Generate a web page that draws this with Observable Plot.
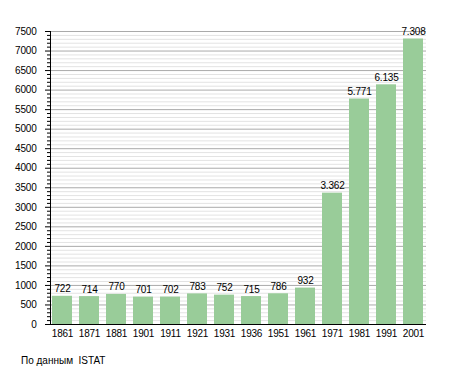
<!DOCTYPE html>
<html><head><meta charset="utf-8">
<script src="https://cdn.jsdelivr.net/npm/d3@7"></script>
<script src="https://cdn.jsdelivr.net/npm/@observablehq/plot@0.6"></script>
<style>
body{margin:0;background:#fff;font-family:"Liberation Sans",Arial,sans-serif;}
#wrap{position:relative;width:455px;height:373px;}
#cap{position:absolute;left:21px;top:355px;font-size:10px;white-space:pre;color:#000;}
svg text{letter-spacing:-0.2px;}
</style></head>
<body><div id="wrap"><div id="chart"></div><div id="cap">По данным  ISTAT</div></div>
<script>
const years = ["1861","1871","1881","1901","1911","1921","1931","1936","1951","1961","1971","1981","1991","2001"];
const population = [722,714,770,701,702,783,752,715,786,932,3362,5771,6135,7308];
const majorTicks = d3.range(0, 7501, 500);
const minorTicks = d3.range(0, 7501, 100).filter(v => v % 500 !== 0);

const data = years.map((y, i) => ({year: y, value: population[i]}));
const fmt = v => v >= 1000 ? d3.format(",")(v).replace(/,/g, ".") : String(v);

const chart = Plot.plot({
  width: 455,
  height: 345,
  marginLeft: 50,
  marginRight: 29,
  marginTop: 31,
  marginBottom: 21,
  style: {fontFamily: "Liberation Sans, Arial, sans-serif", fontSize: "10px", color: "#000", background: "#fff"},
  x: {domain: years, paddingInner: 0.25, paddingOuter: 0, label: null},
  y: {domain: [0, 7500], label: null},
  marks: [
    Plot.ruleY(minorTicks, {stroke: "#e3e3e3", strokeWidth: 1}),
    Plot.ruleY(majorTicks, {stroke: "#aaaaaa", strokeWidth: 1}),
    Plot.barY(data, {x: "year", y: "value", fill: "#99cc99"}),
    Plot.text(data, {x: "year", y: "value", text: d => fmt(d.value), lineAnchor: "bottom", dy: -4, fontSize: 10, fill: "#000"}),
    Plot.axisY(minorTicks, {tickSize: 3, text: null, stroke: "#000"}),
    Plot.axisY(majorTicks, {tickSize: 5, tickPadding: 9, tickFormat: d => String(d), fontSize: 10, stroke: "#000"}),
    Plot.axisX({tickSize: 0, tickPadding: 5, fontSize: 10}),
    Plot.frame({anchor: "left", stroke: "#000"}),
    Plot.ruleY([0], {stroke: "#000"})
  ]
});
document.getElementById("chart").appendChild(chart);
</script>
</body></html>
